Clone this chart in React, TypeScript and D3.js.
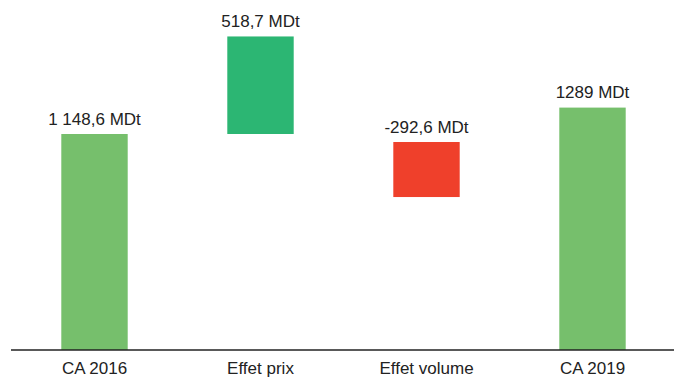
import React from "react";
import * as d3 from "d3";

const categories = ["CA 2016", "Effet prix", "Effet volume", "CA 2019"];
const labels = ["1 148,6 MDt", "518,7 MDt", "-292,6 MDt", "1289 MDt"];
const barStart = [0, 1148.6, 1106, 0];
const barEnd = [1148.6, 1667.3, 813.4, 1289];
const colors = ["#76bf6c", "#2cb673", "#ef402b", "#76bf6c"];

const W = 674;
const H = 380;

export default function App() {
  const x = d3
    .scaleBand<string>()
    .domain(categories)
    .range([11.5, 675.5])
    .paddingInner(0.6)
    .paddingOuter(0.3);
  const y = d3.scaleLinear().domain([0, 1148.6]).range([350, 134]);

  return (
    <svg
      width={W}
      height={H}
      style={{ position: "absolute", left: 0, top: 0, background: "#fff" }}
      fontFamily="'Liberation Sans', Arial, Helvetica, sans-serif"
    >
      {categories.map((c, i) => {
        const top = y(Math.max(barStart[i], barEnd[i]));
        const bot = y(Math.min(barStart[i], barEnd[i]));
        const cx = (x(c) as number) + x.bandwidth() / 2;
        return (
          <g key={c}>
            <rect
              x={x(c)}
              y={top}
              width={x.bandwidth()}
              height={bot - top}
              fill={colors[i]}
            />
            <text
              x={cx}
              y={top - 9.5}
              textAnchor="middle"
              fontSize={17}
              fill="#222"
            >
              {labels[i]}
            </text>
            <text x={cx} y={373.5} textAnchor="middle" fontSize={17} fill="#222">
              {c}
            </text>
          </g>
        );
      })}
      <line x1={11} x2={674} y1={y(0)} y2={y(0)} stroke="#222" strokeWidth={1.3} />
    </svg>
  );
}
